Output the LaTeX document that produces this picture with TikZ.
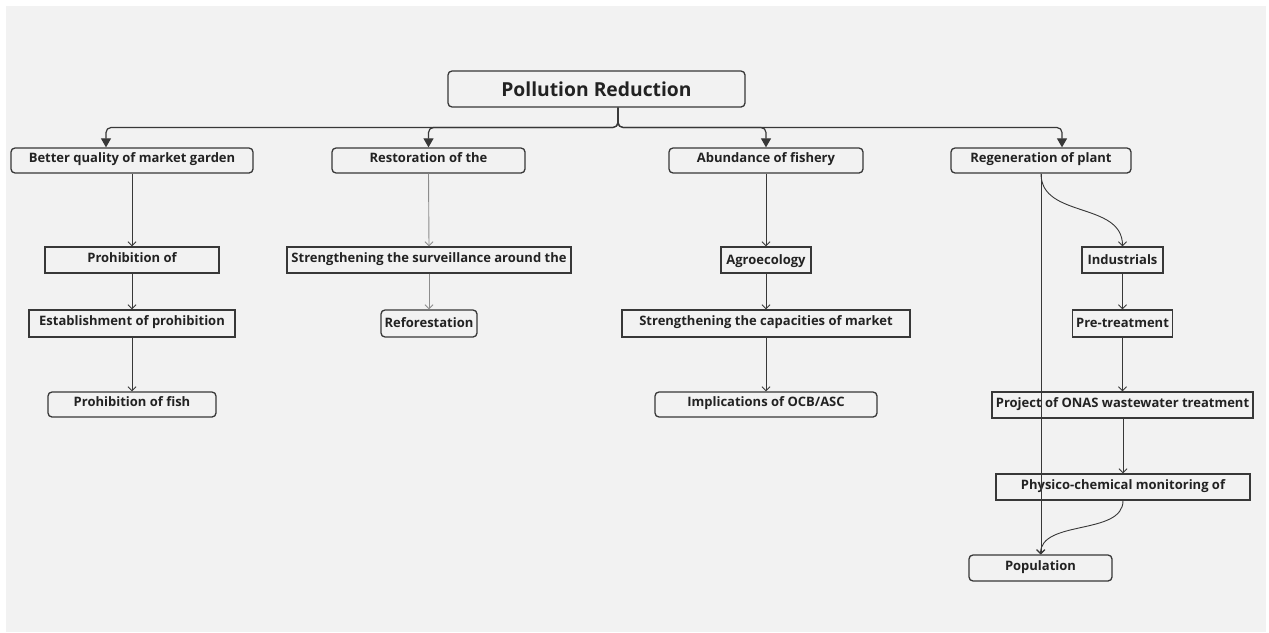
\documentclass[tikz,border=0pt]{standalone}
\usepackage{fontspec}
\setmainfont{Open Sans}
\usetikzlibrary{arrows.meta,calc}

\definecolor{paper}{HTML}{F2F2F2}
\definecolor{ink}{HTML}{222222}
\definecolor{edge}{HTML}{383838}
\definecolor{softedge}{HTML}{8C8C8C}

\tikzset{
  boxbase/.style={draw=edge, line width=1.3pt, inner sep=0pt, text=ink,
    font=\fontsize{13}{15}\selectfont\bfseries, align=center},
  roundbox/.style={boxbase, rounded corners=4pt},
  squarebox/.style={boxbase},
  cuttext/.style={text height=9.5pt, text depth=5.5pt},
  plaintext/.style={text height=9.5pt, text depth=0.8pt},
  bus/.style={draw=edge, line width=1.2pt, rounded corners=5pt,
    -{Triangle[width=10pt,length=9pt]}},
  link/.style={draw=edge, line width=0.9pt,
    -{Straight Barb[width=8pt,length=4pt]}},
  softlink/.style={link, draw=softedge},
}

\begin{document}
\begin{tikzpicture}[x=1pt,y=-1pt]
  % canvas
  \useasboundingbox (0,0) rectangle (1269,632);
  \fill[paper] (6,6) rectangle (1266,632);

  % root
  \node[roundbox, minimum width=297pt, minimum height=36pt,
        font=\fontsize{19.3}{22}\selectfont\bfseries] (root) at (596.5,89) {Pollution Reduction};

  % first level
  \node[roundbox, cuttext, minimum width=242pt, minimum height=25pt] (b1) at (132,160.5) {Better quality of market garden};
  \node[roundbox, cuttext, minimum width=193pt, minimum height=25pt] (b2) at (428.5,160.5) {Restoration of the};
  \node[roundbox, cuttext, minimum width=194pt, minimum height=25pt] (b3) at (766,160.5) {Abundance of fishery};
  \node[roundbox, cuttext, minimum width=180pt, minimum height=25pt] (b4) at (1041,160.5) {Regeneration of plant};

  % column 1
  \node[squarebox, cuttext, minimum width=174pt, minimum height=26pt] (c1a) at (132,260) {Prohibition of};
  \node[squarebox, cuttext, minimum width=206pt, minimum height=27pt] (c1b) at (132,323.5) {Establishment of prohibition};
  \node[roundbox, cuttext, minimum width=168pt, minimum height=25pt] (c1c) at (132,404.5) {Prohibition of fish};

  % column 2
  \node[squarebox, cuttext, minimum width=284pt, minimum height=26pt] (c2a) at (429,260) {Strengthening the surveillance around the};
  \node[roundbox, plaintext, minimum width=96pt, minimum height=27pt] (c2b) at (429,323.5) {Reforestation};

  % column 3
  \node[squarebox, plaintext, minimum width=90pt, minimum height=26pt] (c3a) at (766,260) {Agroecology};
  \node[squarebox, cuttext, minimum width=288pt, minimum height=27pt] (c3b) at (766,323.5) {Strengthening the capacities of market};
  \node[roundbox, cuttext, minimum width=222pt, minimum height=25pt] (c3c) at (766,404.5) {Implications of OCB/ASC};

  % column 4
  \node[squarebox, plaintext, minimum width=81pt, minimum height=26pt] (c4a) at (1122.5,260) {Industrials};
  \node[squarebox, plaintext, minimum width=100pt, minimum height=27pt] (c4b) at (1122.5,323.5) {Pre-treatment};
  \node[squarebox, cuttext, minimum width=261pt, minimum height=26pt] (c4c) at (1122.5,405) {Project of ONAS wastewater treatment};
  \node[squarebox, cuttext, minimum width=254pt, minimum height=26pt] (c4d) at (1123,487) {Physico-chemical monitoring of};
  \node[roundbox, cuttext, minimum width=143pt, minimum height=26pt] (pop) at (1040.5,568) {Population};

  % bus from the root to the first level
  \coordinate (rootout) at ($(root.south)+(21.5,0)$);
  \coordinate (bus) at (0,127.5);
  \coordinate (in1) at ($(b1.north)+(-26,0)$);
  \coordinate (in2) at (b2.north);
  \coordinate (in3) at (b3.north);
  \coordinate (in4) at ($(b4.north)+(21,0)$);
  \draw[bus] (rootout) -- (rootout |- bus) -- (in1 |- bus) -- (in1);
  \draw[bus] (rootout) -- (rootout |- bus) -- (in2 |- bus) -- (in2);
  \draw[bus] (rootout) -- (rootout |- bus) -- (in3 |- bus) -- (in3);
  \draw[bus] (rootout) -- (rootout |- bus) -- (in4 |- bus) -- (in4);

  % column 1 links
  \draw[link] (b1.south) -- (c1a.north);
  \draw[link] (c1a.south) -- (c1b.north);
  \draw[link] (c1b.south) -- (c1c.north);

  % column 2 links
  \draw[softlink] (b2.south) -- (c2a.north);
  \draw[softlink] (c2a.south) -- (c2b.north);

  % column 3 links
  \draw[link] (b3.south) -- (c3a.north);
  \draw[link] (c3a.south) -- (c3b.north);
  \draw[link] (c3b.south) -- (c3c.north);

  % column 4 links
  \draw[link] (b4.south) .. controls +(0,45) and +(0,-45) .. (c4a.north);
  \draw[link] (c4a.south) -- (c4b.north);
  \draw[link] (c4b.south) -- (c4c.north);
  \draw[link] ([xshift=0.5pt]c4c.south) -- ([xshift=0.5pt]c4c.south |- c4d.north);
  \draw[link] (c4d.south) .. controls +(0,35) and +(0,-35) .. (pop.north);
  \draw[link] (b4.south) -- (b4.south |- pop.north);
\end{tikzpicture}
\end{document}
